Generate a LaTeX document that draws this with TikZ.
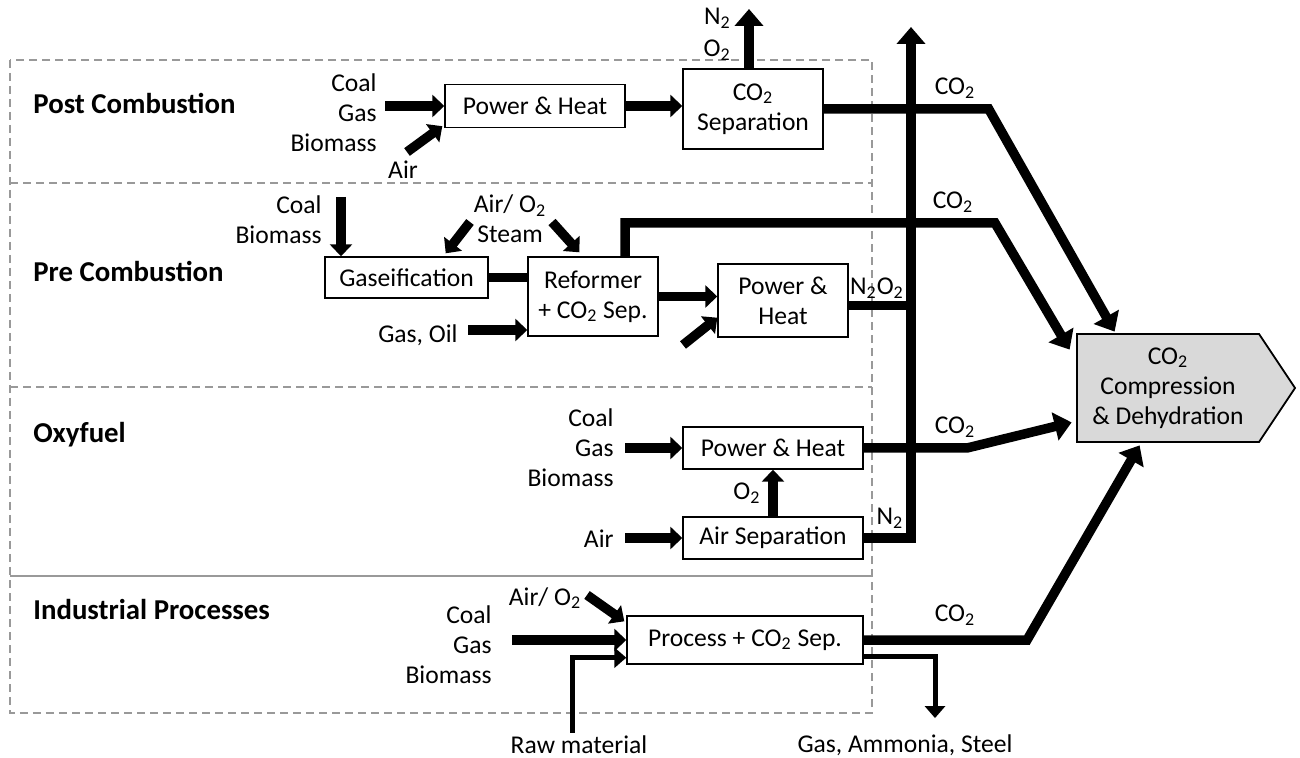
\documentclass[tikz,border=0pt]{standalone}
\usepackage{fontspec}
\setmainfont{Carlito}
\usetikzlibrary{arrows.meta,calc}
\newcommand{\cotwo}{CO\textsubscript{2}}

\begin{document}
\begin{tikzpicture}[x=0.5pt,y=-0.5pt,
  box/.style={draw,line width=0.7pt,fill=white,inner sep=0pt,align=center,font=\fontsize{12.8}{15}\selectfont},
  lbl/.style={inner sep=0pt,align=center,font=\fontsize{12.8}{15}\selectfont},
  title/.style={anchor=west,inner sep=0pt,font=\fontsize{14.4}{17}\selectfont\bfseries},
  frame/.style={draw=black!40,line width=0.75pt,dash pattern=on 4pt off 2.5pt},
  pipe/.style={line width=4.75pt},
  flow/.style={pipe,-{Triangle[width=11pt,length=6pt]}},
  bigflow/.style={pipe,-{Triangle[width=14pt,length=8.5pt]}},
  thinflow/.style={line width=2.5pt,-{Triangle[width=10pt,length=6pt]}}]
  \useasboundingbox (0,0) rectangle (1300,758);

  \draw[frame] (10,60) rectangle (872,713);
  \draw[frame] (10,183) -- (872,183);
  \draw[frame] (10,387) -- (872,387);
  \draw[draw=black!40,line width=0.75pt] (10,576) -- (872,576);

  \node[title] (tpost) at (33,103) {Post Combustion};
  \node[title] (tpre) at (33,271) {Pre Combustion};
  \node[title] (toxy) at (33,435) {Oxyfuel};
  \node[title] (tind) at (33,610) {Industrial Processes};

  \filldraw[fill=black!15,line width=0.9pt] (1077,334) -- (1259,334) -- (1295,388) -- (1259,442) -- (1077,442) -- cycle;
  \node[lbl,minimum width=91pt,minimum height=54pt] (cmp) at (1168,388) {\cotwo\\Compression\\\& Dehydration};

  \coordinate (n2top) at (911,27);
  \coordinate (ventpost) at (749,9);
  \coordinate (airpost) at (407,152);
  \coordinate (aspl) at (470,222);
  \coordinate (aspr) at (552,222);
  \coordinate (oilin) at (468,330);
  \coordinate (airpre) at (683,345);
  \coordinate (fpretop) at (341,197);
  \coordinate (airind) at (587,595);

  % post combustion
  \node[lbl,anchor=east,align=right] (fpost) at (377,113) {Coal\\Gas\\Biomass};
  \node[lbl] (air1) at (403,170) {Air};
  \node[box,minimum width=90pt,minimum height=21.5pt] (pw1) at (535,106) {Power \& Heat};
  \node[box,minimum width=70pt,minimum height=40pt] (sep1) at (753,109) {\cotwo\\Separation};
  \node[lbl,anchor=east] (n2post) at (731,18) {N\textsubscript{2}};
  \node[lbl,anchor=east] (o2post) at (731,50) {O\textsubscript{2}};
  \node[lbl] (co2post) at (955,88) {\cotwo};
  \draw[flow] ($(pw1.west -| fpost.east)+(8,0)$) -- (pw1.west);
  \draw[flow] (airpost) -- ($(pw1.south west)+(-2,-2)$);
  \draw[flow] (pw1.east) -- (pw1.east -| sep1.west);
  \draw[bigflow] (sep1.north -| ventpost) -- (ventpost);

  % pre combustion
  \node[lbl,anchor=east,align=right] (fpre) at (322,220) {Coal\\Biomass};
  \node[lbl] (airsteam) at (510,219) {Air/ O\textsubscript{2}\\Steam};
  \node[box,minimum width=81.5pt,minimum height=20.5pt] (gas) at (406.5,277.5) {Gaseification};
  \node[box,minimum width=65pt,minimum height=39.5pt] (ref) at (593,296.5) {Reformer\\+ \cotwo{} Sep.};
  \node[box,minimum width=65pt,minimum height=36.5pt] (pw2) at (783,300.5) {Power \&\\Heat};
  \node[lbl,anchor=east] (oil) at (458,335) {Gas, Oil};
  \node[lbl] (n2o2) at (877,288) {N\textsubscript{2}O\textsubscript{2}};
  \node[lbl] (co2pre) at (953,202) {\cotwo};
  \draw[flow] (fpretop) -- (fpretop |- gas.north);
  \draw[flow] (aspl) -- ($(gas.north east)+(-43,-3)$);
  \draw[flow] (aspr) -- ($(ref.north west)+(52,-4)$);
  \draw[pipe] (gas.east) -- (gas.east -| ref.west);
  \draw[flow] (oilin) -- (oilin -| ref.west);
  \draw[flow] (ref.east) -- (ref.east -| pw2.west);
  \draw[flow] (airpre) -- ($(pw2.south west)+(0,-20)$);

  % oxyfuel
  \node[lbl,anchor=east,align=right] (foxy) at (614,448) {Coal\\Gas\\Biomass};
  \node[lbl,anchor=east] (airoxy) at (614,539) {Air};
  \node[box,minimum width=90pt,minimum height=21pt] (pw3) at (773,448) {Power \& Heat};
  \node[box,minimum width=90pt,minimum height=21pt] (asu) at (773,538) {Air Separation};
  \node[lbl] (o2oxy) at (747,493) {O\textsubscript{2}};
  \node[lbl] (n2oxy) at (890,518) {N\textsubscript{2}};
  \node[lbl] (co2oxy) at (955,427) {\cotwo};
  \draw[flow] ($(pw3.west -| foxy.east)+(11,0)$) -- (pw3.west);
  \draw[flow] ($(asu.west -| airoxy.east)+(11,0)$) -- (asu.west);
  \draw[flow] (asu.north) -- (pw3.south);
  \draw[bigflow] (asu.east) -| (n2top);

  % industrial
  \node[lbl,anchor=east,align=right] (find) at (492,645) {Coal\\Gas\\Biomass};
  \node[lbl] (o2ind) at (545,598) {Air/ O\textsubscript{2}};
  \node[box,minimum width=118pt,minimum height=24pt] (proc) at (745,640) {Process + \cotwo{} Sep.};
  \node[lbl] (raw) at (579,745) {Raw material};
  \node[lbl] (prod) at (905,745) {Gas, Ammonia, Steel};
  \node[lbl] (co2ind) at (955,615) {\cotwo};
  \draw[flow] ($(proc.west -| find.east)+(20,0)$) -- (proc.west);
  \draw[flow] (airind) -- ($(proc.north west)+(-2,6)$);
  \draw[thinflow] ($(raw.north)+(-7,-3)$) |- ($(proc.south west)+(0,-7)$);
  \draw[thinflow] ($(proc.south east)+(0,-8)$) -| ($(prod.north)+(30,-16)$);

  % co2 to compression
  \draw[pipe] ($(pw2.east)+(0,5)$) -- ($(pw2.east -| n2top)+(0,5)$);
  \draw[bigflow] (sep1.east) -- ($(sep1.east)+(165,0)$) -- ($(cmp.north west)+(38,-2)$);
  \draw[bigflow] ($(ref.north)+(32,0)$) |- (995,223) -- ($(cmp.north west)+(-7,16)$);
  \draw[bigflow] (pw3.east) -- (967,448) -- ($(cmp.south west)+(-5,-20)$);
  \draw[bigflow] (proc.east) -- (1027,640) -- ($(cmp.south west)+(63,3)$);
\end{tikzpicture}
\end{document}
